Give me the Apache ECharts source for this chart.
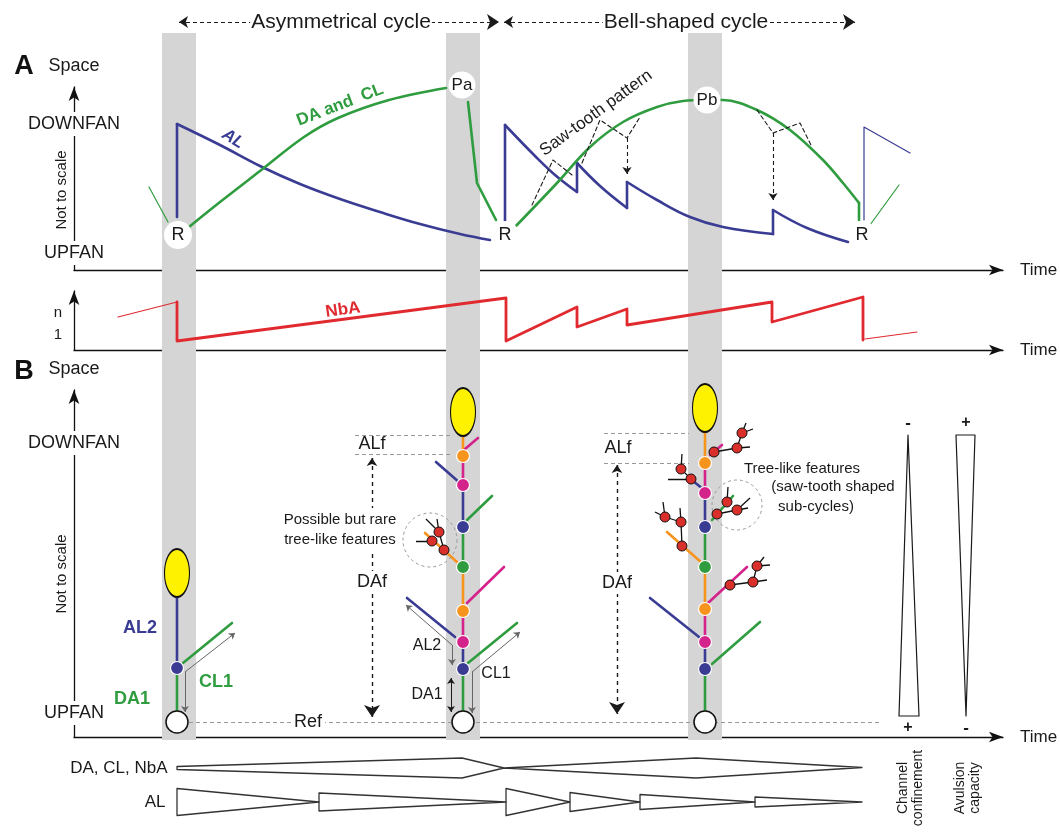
<!DOCTYPE html>
<html><head><meta charset="utf-8"><title>Avulsion cycles</title>
<script src="https://cdn.jsdelivr.net/npm/echarts@6.0.0/dist/echarts.min.js"></script>
<style>html,body{margin:0;padding:0;background:#fff;}#chart{width:1060px;height:832px;}</style>
</head><body><div id="chart"></div>
<script>
const FONT = '"Liberation Sans", Arial, Helvetica, sans-serif';
const INK = '#1a1a1a';
const C = {blue:'#3a3c94', green:'#2f9d3f', red:'#e12a2f', orange:'#f7941d', magenta:'#d4238a',
           yellow:'#fff200', band:'#d5d5d5', gray:'#666', dash:'#999', dot:'#d9302c', white:'#ffffff'};

// ---------- shared time axis (0 = space axis) ----------
const bandSpans = [[88,122],[372,406],[614,648]];
const bandTop = 707;
const cycleArrows = [[105,425],[430,781]];
const cycleLevel = 718;
const cycleNames = ['Asymmetrical cycle','Bell-shaped cycle'];
const cycleNameAt = [267,612];

// ---------- Panel A: space vs time ----------
const alCycle1 = [[103,53],[103,146],[146,125],[186,104],[226,86],[266,71],[306,58],[346,46],[386,36],[416,30]];
const alCycle2 = [[431,43],[431,145],[462,113],[481,95],[503,78],[503,107],[526,84],[553,62],[553,88],[583,70],[616,53],[649,43],[699,36],[699,60],[733,42],[774,28]];
const alNext = [[790,50],[790,143],[836,117]];
const daPrev = [[75,83],[94,48]];
const daAsym = [[115,43],[146,68],[186,99],[230,133],[264,152],[315,170],[372,182]];
const daAsymFall = [[394,168],[403,87],[422,50]];
const daBell = [[441,43],[483,87],[516,123],[549,148],[583,163],[609,169],[633,170],[649,170],[683,160],[716,140],[749,110],[769,87],[785,67]];
const daBellEnd = [[785,67],[785,50]];
const daNext = [[796,45],[825,85]];
const sawDashed = [
  [[458,65],[479,110],[498,95]],
  [[508,107],[526,150],[541,140],[553,132],[566,153]],
  [[683,160],[699,137],[726,147],[738,123]]
];
const sawDrops = [[[553,132],[553,96]],[[699,137],[699,70]]];
const resets = [[104,35],[431,35],[788,35]];
const peaks = [['Pa',388,185],['Pb',633,170]];

// ---------- NbA: number of active channels ----------
const nbaPrev = [[44,33],[103,48]];
const nbaMain = [[103,48],[103,9],[432,52],[432,9],[503,43],[503,23],[553,41],[553,25],[698,48],[698,28],[789,53],[789,10]];
const nbaNext = [[791,11],[843,18]];
const nbaTicks = [15,37];
const nbaTickNames = ['1','n'];

// ---------- Panel B: channel stems ----------
const stemTimes = [103,389,631];
const stemEllipse = [164,325,329];
const stemLevels = [
  [140,69,15],
  [300,281,252,210,170,126,95,68,15],
  [304,274,244,210,170,128,95,68,15]
];
const stemNodeKinds = [
  [null,'blue','white'],
  [null,'orange','magenta','blue','green','orange','magenta','blue','white'],
  [null,'orange','magenta','blue','green','orange','magenta','blue','white']
];
const stemSegKinds = [
  ['blue','green'],
  ['orange','magenta','blue','green','orange','magenta','blue','green'],
  ['orange','magenta','blue','green','orange','magenta','blue','green']
];
const branches = [
  ['green',109,74,158,114],
  ['magenta',391,288,404,299],['blue',362,275,386,254],['green',393,217,418,241],['orange',384,174,351,204],
  ['magenta',393,134,430,170],['blue',381,100,333,139],['green',394,74,443,114],
  ['magenta',636,282,648,292],['blue',629,248,614,260],['green',638,217,659,241],['orange',628,174,593,205],
  ['magenta',634,134,673,170],['blue',625,100,576,139],['green',638,73,686,115]
];
const treeDots = [[370,187],[358,196],[365,205],
  [640,285],[663,289],[668,304],[617,258],[607,268],[643,223],[663,227],[653,235],
  [608,191],[607,215],[591,220],[656,152],[679,155],[683,171]];
const treeTwigs = [
  [[365,205],[352,218]],[[365,205],[363,218]],[[358,196],[342,196]],[[370,187],[365,205]],
  [[640,285],[663,289]],[[663,289],[676,290]],[[663,289],[668,304]],[[668,304],[679,308]],[[668,304],[672,314]],
  [[617,258],[594,258]],[[617,258],[607,268]],[[607,268],[608,283]],
  [[643,223],[663,227]],[[663,227],[674,229]],[[663,227],[676,239]],[[653,235],[654,250]],
  [[608,191],[607,215]],[[607,215],[606,229]],[[607,215],[591,220]],[[591,220],[589,235]],[[591,220],[581,225]],
  [[656,152],[679,155]],[[679,155],[693,157]],[[679,155],[683,171]],[[683,171],[690,180]],[[683,171],[696,172]]
];
const treeCircles = [[356,197,54],[663,232,50]];
const alfLines = [[[281,302],[379,302]],[[281,283],[379,283]],[[530,304],[615,304]],[[530,274],[615,274]]];
const dafArrows = [[[298,279],[298,20]],[[543,272],[543,23]]];
const refLine = [[115,15],[808,15]];
const flowArrows = [
  [[111,65],[161,104]],[[111,65],[111,25]],
  [[378,92],[332,132]],[[378,92],[378,72]],
  [[398,65],[446,105]],[[398,65],[398,24]]
];
const da1Arrow = [[[377,59],[377,25]]];
const confinementWedge = [[834,302],[845,21],[825,21],[834,302]];
const avulsionWedge = [[882,302],[901,302],[892,21],[882,302]];

// ---------- bottom strip: relative magnitudes ----------
const daRowCenter = 64, alRowCenter = 30;
const daProfile = [[103,1.5],[388,10],[430,0],[622,10],[788,0.5]];
const alWedgeStarts = [103,245,432,496,566,681];
const alWedgeEnd = 788;
const alWedgeHalf = [13.5,9,13.5,9.5,7.5,5];

// ---------- text annotations ----------
const cycleLabels = cycleNames.map((n,i)=>({text:n, at:[cycleNameAt[i],cycleLevel], style:{fontSize:21, backgroundColor:'#fff', padding:[0,1]}}));
const panelALabels = [
  {text:'AL', at:[159,131], style:{color:C.blue, fontWeight:'bold', fontStyle:'italic', fontSize:17, rotate:-32}},
  {text:'DA and  CL', at:[266,165], style:{color:C.green, fontWeight:'bold', fontSize:17, rotate:21}},
  {text:'Saw-tooth pattern', at:[522,157], style:{fontSize:17, rotate:36}}
];
const nbaLabels = [{text:'NbA', at:[269,40], style:{color:C.red, fontWeight:'bold', fontSize:17, rotate:8}}];
const panelBLabels = [
  {text:'AL2', at:[66,109], style:{color:C.blue, fontWeight:'bold', fontSize:18}},
  {text:'DA1', at:[58,38], style:{color:C.green, fontWeight:'bold', fontSize:18}},
  {text:'CL1', at:[142,55], style:{color:C.green, fontWeight:'bold', fontSize:18}},
  {text:'AL2', at:[353,91], style:{fontSize:16}},
  {text:'CL1', at:[422,63], style:{fontSize:16}},
  {text:'DA1', at:[353,42], style:{fontSize:16}},
  {text:'ALf', at:[298,293], style:{fontSize:18}},
  {text:'DAf', at:[298,155], style:{fontSize:18, backgroundColor:'#fff', padding:[2,1]}},
  {text:'Possible but rare\ntree-like features', at:[266,207], style:{fontSize:15, lineHeight:20, backgroundColor:'#fff', padding:[2,1]}},
  {text:'Ref', at:[234,15], style:{fontSize:18, backgroundColor:'#fff', padding:[0,3]}},
  {text:'ALf', at:[544,289], style:{fontSize:18}},
  {text:'DAf', at:[543,154], style:{fontSize:18, backgroundColor:'#fff', padding:[2,1]}},
  {text:'Tree-like features', at:[728,268], style:{fontSize:15}},
  {text:'(saw-tooth shaped', at:[759,250], style:{fontSize:15}},
  {text:'sub-cycles)', at:[742,230], style:{fontSize:15}},
  {text:'-', at:[834,314], style:{fontSize:17, fontWeight:'bold'}},
  {text:'+', at:[834,9], style:{fontSize:16, fontWeight:'bold'}},
  {text:'+', at:[892,314], style:{fontSize:16, fontWeight:'bold'}},
  {text:'-', at:[892,9], style:{fontSize:17, fontWeight:'bold'}}
];
const stripLabels = [
  {text:'DA, CL, NbA', at:[94,daRowCenter], style:{fontSize:17, position:'left', distance:0}},
  {text:'AL', at:[92,alRowCenter], style:{fontSize:17, position:'left', distance:0}},
  {text:'Channel\nconfinement', at:[837,44], style:{fontSize:14, lineHeight:15, rotate:90}},
  {text:'Avulsion\ncapacity', at:[894,44], style:{fontSize:14, lineHeight:15, rotate:90}}
];

// ---------- helpers ----------
function lineS(gi, data, color, width, opts) {
  opts = opts || {};
  return {type:'line', xAxisIndex:gi, yAxisIndex:gi, data:data, symbol:'none', showSymbol:false, clip:false,
    silent:true, smooth:opts.smooth||false, z:opts.z||3,
    lineStyle:{color:color, width:width, type:opts.type||'solid', cap:'round', join:'round', opacity:1}};
}
// saw-tooth curves: vertical jumps straight, decays smoothed
function sawS(gi, pts, color, width) {
  const out = []; let cur = [pts[0]];
  for (let i=1;i<pts.length;i++) {
    if (pts[i][0]===pts[i-1][0]) {
      if (cur.length>1) out.push(lineS(gi, cur, color, width, {smooth:0.4}));
      out.push(lineS(gi, [pts[i-1],pts[i]], color, width));
      cur = [pts[i]];
    } else cur.push(pts[i]);
  }
  if (cur.length>1) out.push(lineS(gi, cur, color, width, {smooth:0.4}));
  return out;
}
function segS(gi, segs, color, width, opts) {
  opts = opts || {};
  return {type:'lines', coordinateSystem:'cartesian2d', xAxisIndex:gi, yAxisIndex:gi, silent:true, z:opts.z||3,
    symbol:opts.symbol||['none','none'], symbolSize:opts.symbolSize||7,
    lineStyle:{color:color, width:width, type:opts.type||'solid', opacity:1, curveness:0},
    data:segs.map(s=>({coords:s}))};
}
function dotS(gi, pts, size, fill, border, bw, z) {
  return {type:'scatter', xAxisIndex:gi, yAxisIndex:gi, clip:false, silent:true, z:z||5,
    symbol:'circle', symbolSize:size, data:pts,
    itemStyle:{color:fill, borderColor:border||'transparent', borderWidth:bw||0, opacity:1}};
}
function textS(gi, items, z) {
  return {type:'scatter', xAxisIndex:gi, yAxisIndex:gi, clip:false, silent:true, z:z||10, symbolSize:1,
    itemStyle:{color:'rgba(0,0,0,0)', opacity:1},
    data:items.map(it=>({value:[it.at[0],it.at[1]],
      label:Object.assign({show:true, position:'inside', formatter:it.text, color:INK, fontSize:16, fontFamily:FONT,
        opacity:1, textBorderWidth:0}, it.style||{})}))};
}

// ---------- series ----------
const series = [];
series.push({type:'line', xAxisIndex:0, yAxisIndex:0, data:[], z:0, silent:true,
  markArea:{silent:true, itemStyle:{color:C.band, opacity:1}, data:bandSpans.map(([a,b])=>[{coord:[a,0]},{coord:[b,bandTop]}])}});
series.push(segS(0, cycleArrows.map(([a,b])=>[[a,cycleLevel],[b,cycleLevel]]), INK, 1.2, {type:[4,3], symbol:['arrow','arrow'], symbolSize:[9,12]}));
series.push(textS(0, cycleLabels));

// panel A
sawS(1, alCycle1, C.blue, 2.6).forEach(s=>series.push(s));
sawS(1, alCycle2, C.blue, 2.6).forEach(s=>series.push(s));
series.push(lineS(1, alNext, C.blue, 1.2));
series.push(lineS(1, daPrev, C.green, 1.2));
series.push(lineS(1, daAsym, C.green, 2.6, {smooth:0.35}));
series.push(lineS(1, daAsymFall, C.green, 2.6));
series.push(lineS(1, daBell, C.green, 2.6, {smooth:0.35}));
series.push(lineS(1, daBellEnd, C.green, 2.6));
series.push(lineS(1, daNext, C.green, 1.2));
sawDashed.forEach(d=>series.push(lineS(1, d, INK, 1.1, {type:[4,3], z:4})));
series.push(segS(1, sawDrops, INK, 1.1, {type:[4,3], symbol:['none','arrow'], symbolSize:7, z:4}));
series.push(dotS(1, resets, 28, C.white, null, 0, 6));
series.push(dotS(1, peaks.map(p=>[p[1],p[2]]), 27, C.white, null, 0, 6));
series.push(textS(1, resets.map(r=>({text:'R', at:r, style:{fontSize:18}}))));
series.push(textS(1, peaks.map(p=>({text:p[0], at:[p[1],p[2]], style:{fontSize:17}}))));
series.push(textS(1, panelALabels));

// NbA
series.push(lineS(2, nbaPrev, C.red, 1.2));
series.push(lineS(2, nbaMain, C.red, 2.8));
series.push(lineS(2, nbaNext, C.red, 1.2));
series.push(textS(2, nbaLabels));

// panel B
series.push(segS(3, alfLines, C.dash, 1, {type:[4,3], z:2}));
series.push(segS(3, [refLine], C.dash, 1, {type:[4,3], z:2}));
series.push(segS(3, dafArrows, INK, 1.4, {type:[4,4], symbol:['arrow','arrow'], symbolSize:[8,12], z:4}));
series.push(segS(3, flowArrows, C.gray, 1, {symbol:['none','arrow'], symbolSize:6, z:4}));
series.push(segS(3, da1Arrow, INK, 1, {symbol:['arrow','arrow'], symbolSize:6, z:4}));
stemTimes.forEach((t,s)=>{
  const lv = stemLevels[s];
  for (let i=0;i<lv.length-1;i++) {
    series.push(lineS(3, [[t,lv[i]],[t,lv[i+1]]], C[stemSegKinds[s][i]], 2.6));
  }
});
branches.forEach(b=>series.push(lineS(3, [[b[1],b[2]],[b[3],b[4]]], C[b[0]], 2.6)));
series.push(segS(3, treeTwigs, '#111', 1.3, {z:4}));
series.push(dotS(3, treeDots, 10, C.dot, '#111', 1, 6));
series.push({type:'scatter', xAxisIndex:3, yAxisIndex:3, clip:false, silent:true, z:4, symbol:'circle',
  data:treeCircles.map(c=>({value:[c[0],c[1]], symbolSize:c[2]})),
  itemStyle:{color:'rgba(0,0,0,0)', borderColor:'#999', borderWidth:1, borderType:[3,3], opacity:1}});
series.push({type:'scatter', xAxisIndex:3, yAxisIndex:3, clip:false, silent:true, z:6, symbol:'circle', symbolSize:[25,48],
  data:stemTimes.map((t,s)=>[t,stemEllipse[s]]), itemStyle:{color:C.yellow, borderColor:'#111', borderWidth:1.5, opacity:1}});
stemTimes.forEach((t,s)=>{
  stemNodeKinds[s].forEach((k,i)=>{
    if (!k) return;
    if (k==='white') series.push(dotS(3, [[t,stemLevels[s][i]]], 22, C.white, '#111', 1.5, 6));
    else series.push(dotS(3, [[t,stemLevels[s][i]]], 13, C[k], '#fff', 1.2, 6));
  });
});
series.push(lineS(3, confinementWedge, INK, 1.2));
series.push(lineS(3, avulsionWedge, INK, 1.2));
series.push(textS(3, panelBLabels));

// bottom strip
const daUpper = daProfile.map(([t,h])=>[t, daRowCenter+h]);
const daLower = daProfile.slice().reverse().map(([t,h])=>[t, daRowCenter-h]);
series.push(lineS(4, daUpper.concat(daLower, [daUpper[0]]), '#333', 1.3));
alWedgeStarts.forEach((ts,i)=>{
  const te = i<alWedgeStarts.length-1 ? alWedgeStarts[i+1] : alWedgeEnd;
  const h = alWedgeHalf[i];
  series.push(lineS(4, [[ts,alRowCenter+h],[te,alRowCenter],[ts,alRowCenter-h],[ts,alRowCenter+h]], '#333', 1.3));
});
series.push(textS(4, stripLabels));

// ---------- axes ----------
const axisLineStyle = {show:true, symbol:['none','arrow'], symbolSize:[8,14], lineStyle:{color:'#111', width:1.3}};
const timeAxis = gi => ({gridIndex:gi, type:'value', min:0, max:929, axisLine:axisLineStyle, axisTick:{show:false},
  axisLabel:{show:false}, splitLine:{show:false}, name:'Time', nameLocation:'end', nameGap:17,
  nameTextStyle:{fontSize:17, color:INK, fontFamily:FONT}});
const hidden = (gi,max) => ({gridIndex:gi, type:'value', min:0, max:max, show:false});
const spaceAxis = (gi,max) => ({gridIndex:gi, type:'value', min:0, max:max, axisLine:axisLineStyle, axisTick:{show:false},
  axisLabel:{show:false}, splitLine:{show:false}, name:'Space', nameLocation:'end', nameGap:12,
  nameTextStyle:{fontSize:18, color:INK, fontFamily:FONT}});

const option = {
  animation:false,
  backgroundColor:'#fff',
  textStyle:{fontFamily:FONT},
  grid:[
    {left:74, width:929, top:0, height:740},
    {left:74, width:929, top:87, height:183},
    {left:74, width:929, top:291, height:59},
    {left:74, width:929, top:390, height:347},
    {left:74, width:929, top:742, height:90}
  ],
  xAxis:[hidden(0,929), timeAxis(1), timeAxis(2), timeAxis(3), hidden(4,929)],
  yAxis:[hidden(0,740), spaceAxis(1,183),
    {gridIndex:2, type:'value', min:0, max:59, axisLine:axisLineStyle, axisTick:{show:false}, splitLine:{show:false},
     axisLabel:{show:true, customValues:nbaTicks, formatter:v=>nbaTickNames[nbaTicks.indexOf(v)], fontSize:15, color:INK, margin:12}},
    spaceAxis(3,347), hidden(4,90)],
  graphic:[
    {type:'text', x:24, y:67, z:100, style:{text:'A', font:'bold 27px '+FONT, fill:'#111', textAlign:'center', textVerticalAlign:'middle'}},
    {type:'text', x:24, y:372, z:100, style:{text:'B', font:'bold 27px '+FONT, fill:'#111', textAlign:'center', textVerticalAlign:'middle'}},
    {type:'text', x:74, y:124, z:100, style:{text:'DOWNFAN', font:'18px '+FONT, fill:INK, textAlign:'center', textVerticalAlign:'middle', backgroundColor:'#fff', padding:[3,2]}},
    {type:'text', x:74, y:253, z:100, style:{text:'UPFAN', font:'18px '+FONT, fill:INK, textAlign:'center', textVerticalAlign:'middle', backgroundColor:'#fff', padding:[3,2]}},
    {type:'text', x:74, y:443, z:100, style:{text:'DOWNFAN', font:'18px '+FONT, fill:INK, textAlign:'center', textVerticalAlign:'middle', backgroundColor:'#fff', padding:[3,2]}},
    {type:'text', x:74, y:713, z:100, style:{text:'UPFAN', font:'18px '+FONT, fill:INK, textAlign:'center', textVerticalAlign:'middle', backgroundColor:'#fff', padding:[3,2]}},
    {type:'text', x:62, y:190, z:100, rotation:Math.PI/2, style:{text:'Not to scale', font:'15px '+FONT, fill:INK, textAlign:'center', textVerticalAlign:'middle'}},
    {type:'text', x:62, y:574, z:100, rotation:Math.PI/2, style:{text:'Not to scale', font:'15px '+FONT, fill:INK, textAlign:'center', textVerticalAlign:'middle'}}
  ],
  series:series
};
const chart = echarts.init(document.getElementById('chart'), null, {renderer:'canvas'});
chart.setOption(option);
</script></body></html>
